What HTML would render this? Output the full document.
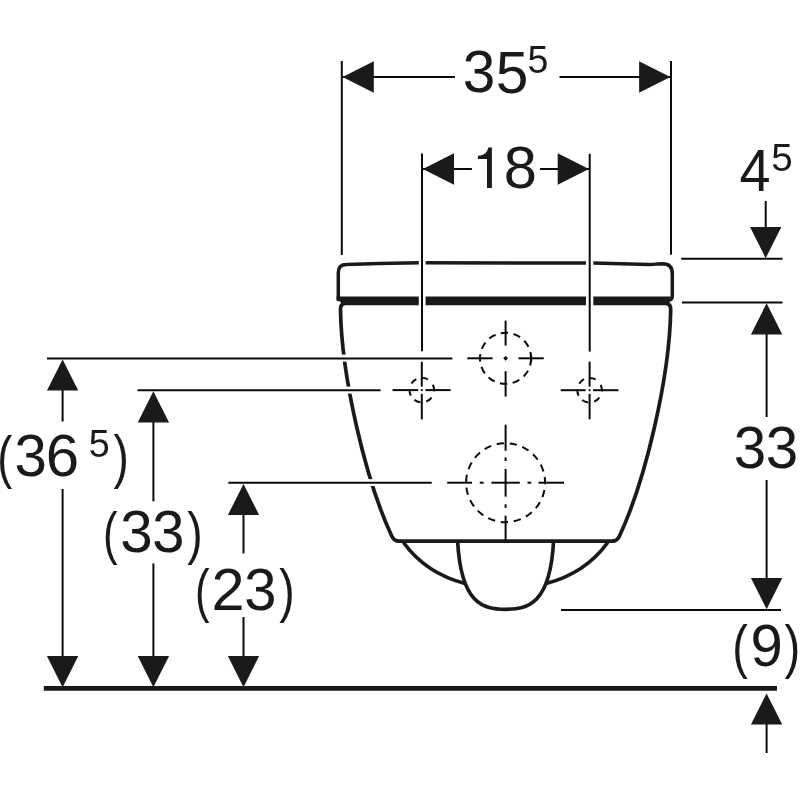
<!DOCTYPE html>
<html><head><meta charset="utf-8"><style>
html,body{margin:0;padding:0;background:#fff;}
svg{display:block;}
text{font-family:"Liberation Sans",sans-serif;fill:#1a1a1a;}
svg{will-change:transform;}
</style></head><body>
<svg width="800" height="800" viewBox="0 0 800 800">
<rect width="800" height="800" fill="#fff"/>
<g stroke="#1a1a1a" fill="none" stroke-linecap="butt">
<path d="M338.3 299.5 L338.3 272.5 Q338.3 264.4 346.5 264.4 L379 263.5 L420 262.8 L593 263 L649 264.6 Q653 264.7 657.5 263.9 L662.5 263.7 Q672.3 263.7 672.3 273.5 L672.3 296 Q672.3 299.8 668.5 300.2" stroke-width="3.5" fill="none" />
<polygon points="336.6,296.6 670.5,296.6 670.5,300.5 667.8,305.2 341.5,305.2 340.5,301.8 336.6,300.8" stroke="none" fill="#1a1a1a"/>
<path d="M344.5 303.6 Q340.5 304.2 340.5 309 C341.36 377.15 365.96 480.71 391.5 535.5 Q393.8 541.2 399 541.2" stroke-width="3.7" fill="none" />
<path d="M 666.70 303.6 Q 670.70 304.2 670.70 309 C 669.84 377.15 645.24 480.71 619.70 535.5 Q 617.40 541.2 612.20 541.2" stroke-width="3.7" fill="none" />
<line x1="397" y1="541.2" x2="614.2" y2="541.2" stroke-width="3.7"/>
<path d="M403.5 542.5 C418 562.5 440 577 465 583.5" stroke-width="3.7" fill="none" />
<path d="M 607.70 542.5 C 593.20 562.5 571.20 577 546.20 583.5" stroke-width="3.7" fill="none" />
<path d="M457.6 541 C460.93 603.9 483.07 609.3 505.6 609.3 C528.1300000000001 609.3 550.27 603.9 553.6 541" stroke-width="3.7" fill="none" />
<rect x="418.8" y="258" width="6.8" height="50" fill="#fff" stroke="none"/>
<rect x="586" y="258" width="7.3" height="50" fill="#fff" stroke="none"/>
<rect x="336" y="354.6" width="14" height="7" fill="#fff" stroke="none"/>
<rect x="340" y="386.6" width="14" height="7" fill="#fff" stroke="none"/>
<rect x="362" y="479.2" width="16" height="6.8" fill="#fff" stroke="none"/>
<line x1="341.8" y1="61.0" x2="341.8" y2="255" stroke-width="2.0" stroke="#0a0a0a"/>
<line x1="671.0" y1="60.9" x2="671.0" y2="254.8" stroke-width="2.0" stroke="#0a0a0a"/>
<line x1="342" y1="77" x2="455" y2="77" stroke-width="2.0" stroke="#0a0a0a"/>
<line x1="559.5" y1="77" x2="670.6" y2="77" stroke-width="2.0" stroke="#0a0a0a"/>
<polygon points="342.60,77.00 373.80,61.35 373.80,92.65" stroke="none" fill="#1a1a1a"/>
<polygon points="670.30,77.00 639.10,61.35 639.10,92.65" stroke="none" fill="#1a1a1a"/>
<line x1="422" y1="153.6" x2="422" y2="351.2" stroke-width="2.0" stroke="#0a0a0a"/>
<line x1="589.7" y1="153.8" x2="589.7" y2="351.6" stroke-width="2.0" stroke="#0a0a0a"/>
<line x1="422" y1="169" x2="471.9" y2="169" stroke-width="2.0" stroke="#0a0a0a"/>
<line x1="540" y1="169" x2="589.7" y2="169" stroke-width="2.0" stroke="#0a0a0a"/>
<polygon points="422.80,169.00 454.00,153.35 454.00,184.65" stroke="none" fill="#1a1a1a"/>
<polygon points="588.90,169.00 557.70,153.35 557.70,184.65" stroke="none" fill="#1a1a1a"/>
<line x1="681.2" y1="258.8" x2="782.5" y2="258.8" stroke-width="2.0" stroke="#0a0a0a"/>
<line x1="681.9" y1="302.5" x2="782.5" y2="302.5" stroke-width="2.0" stroke="#0a0a0a"/>
<line x1="561" y1="610.1" x2="781" y2="610.1" stroke-width="2.0" stroke="#0a0a0a"/>
<line x1="765.7" y1="201.0" x2="765.7" y2="230" stroke-width="2.0" stroke="#0a0a0a"/>
<polygon points="765.70,258.20 750.05,227.00 781.35,227.00" stroke="none" fill="#1a1a1a"/>
<line x1="766.6" y1="330" x2="766.6" y2="417" stroke-width="2.0" stroke="#0a0a0a"/>
<polygon points="766.60,303.20 750.95,334.40 782.25,334.40" stroke="none" fill="#1a1a1a"/>
<line x1="766.6" y1="480" x2="766.6" y2="580" stroke-width="2.0" stroke="#0a0a0a"/>
<polygon points="766.60,609.20 750.95,578.00 782.25,578.00" stroke="none" fill="#1a1a1a"/>
<line x1="766.6" y1="720" x2="766.6" y2="753" stroke-width="2.0" stroke="#0a0a0a"/>
<polygon points="766.60,693.40 750.95,724.60 782.25,724.60" stroke="none" fill="#1a1a1a"/>
<line x1="43.8" y1="688.4" x2="777" y2="688.4" stroke-width="4.8"/>
<line x1="47" y1="358.4" x2="452.4" y2="358.4" stroke-width="2.0" stroke="#0a0a0a"/>
<line x1="62.6" y1="388" x2="62.6" y2="421.5" stroke-width="2.0" stroke="#0a0a0a"/>
<polygon points="62.60,359.40 46.95,390.60 78.25,390.60" stroke="none" fill="#1a1a1a"/>
<line x1="62.6" y1="489" x2="62.6" y2="660" stroke-width="2.0" stroke="#0a0a0a"/>
<polygon points="62.60,687.20 46.95,656.00 78.25,656.00" stroke="none" fill="#1a1a1a"/>
<line x1="137.5" y1="390.2" x2="380.6" y2="390.2" stroke-width="2.0" stroke="#0a0a0a"/>
<line x1="153.4" y1="420" x2="153.4" y2="501.4" stroke-width="2.0" stroke="#0a0a0a"/>
<polygon points="153.40,391.20 137.75,422.40 169.05,422.40" stroke="none" fill="#1a1a1a"/>
<line x1="153.4" y1="563.4" x2="153.4" y2="660" stroke-width="2.0" stroke="#0a0a0a"/>
<polygon points="153.40,687.20 137.75,656.00 169.05,656.00" stroke="none" fill="#1a1a1a"/>
<line x1="228.4" y1="482.75" x2="431.7" y2="482.75" stroke-width="2.0" stroke="#0a0a0a"/>
<line x1="243.5" y1="512" x2="243.5" y2="553.4" stroke-width="2.0" stroke="#0a0a0a"/>
<polygon points="243.50,483.90 227.85,515.10 259.15,515.10" stroke="none" fill="#1a1a1a"/>
<line x1="243.5" y1="617.0" x2="243.5" y2="660" stroke-width="2.0" stroke="#0a0a0a"/>
<polygon points="243.50,687.20 227.85,656.00 259.15,656.00" stroke="none" fill="#1a1a1a"/>
<line x1="505.6" y1="320.6" x2="505.6" y2="345.6" stroke-width="2.0" stroke="#0a0a0a"/>
<line x1="505.6" y1="371.2" x2="505.6" y2="396.6" stroke-width="2.0" stroke="#0a0a0a"/>
<line x1="467.3" y1="358.3" x2="492.6" y2="358.3" stroke-width="2.0" stroke="#0a0a0a"/>
<line x1="518.5" y1="358.3" x2="543.8" y2="358.3" stroke-width="2.0" stroke="#0a0a0a"/>
<polygon points="503.20000000000005,358.3 505.6,355.90000000000003 508.0,358.3 505.6,360.7" stroke="none" fill="#0a0a0a"/>
<path d="M530.94 354.65A25.6 25.6 0 0 1 530.94 361.95M528.03 370.63A25.6 25.6 0 0 1 523.64 376.47M519.32 379.91A25.6 25.6 0 0 1 512.66 382.91M507.21 383.85A25.6 25.6 0 0 1 499.93 383.26M494.70 381.46A25.6 25.6 0 0 1 488.60 377.44M484.89 373.35A25.6 25.6 0 0 1 481.48 366.89M480.20 361.51A25.6 25.6 0 0 1 480.33 354.21M481.80 348.88A25.6 25.6 0 0 1 485.43 342.54M489.28 338.57A25.6 25.6 0 0 1 495.52 334.77M500.80 333.15A25.6 25.6 0 0 1 508.10 332.82M513.51 333.95A25.6 25.6 0 0 1 520.06 337.18M524.26 340.78A25.6 25.6 0 0 1 528.45 346.76" stroke-width="2.0" fill="none" stroke="#0a0a0a" />
<path d="M530.40 351.93A25.6 25.6 0 0 1 530.16 365.53" stroke-width="2.0" fill="none" stroke="#0a0a0a" />
<line x1="421.8" y1="361.8" x2="421.8" y2="386.6" stroke-width="2.0" stroke="#0a0a0a"/>
<line x1="421.8" y1="393.8" x2="421.8" y2="419.4" stroke-width="2.0" stroke="#0a0a0a"/>
<line x1="392.5" y1="390.1" x2="418.2" y2="390.1" stroke-width="2.0" stroke="#0a0a0a"/>
<line x1="425.4" y1="390.1" x2="450.6" y2="390.1" stroke-width="2.0" stroke="#0a0a0a"/>
<rect x="420.8" y="389.1" width="2" height="2" fill="#1a1a1a" stroke="none"/>
<path d="M421.48 377.80A12.3 12.3 0 0 1 427.86 379.39M432.90 384.80A12.3 12.3 0 0 1 434.04 391.28M431.56 397.59A12.3 12.3 0 0 1 426.31 401.54M420.41 402.32A12.3 12.3 0 0 1 414.31 399.86M410.79 395.59A12.3 12.3 0 0 1 409.54 389.13M411.43 383.49A12.3 12.3 0 0 1 416.31 379.09" stroke-width="2.0" fill="none" stroke="#0a0a0a" />
<line x1="589.6" y1="361.6" x2="589.6" y2="386.6" stroke-width="2.0" stroke="#0a0a0a"/>
<line x1="589.6" y1="393.9" x2="589.6" y2="419.3" stroke-width="2.0" stroke="#0a0a0a"/>
<line x1="560.7" y1="390.2" x2="585.6" y2="390.2" stroke-width="2.0" stroke="#0a0a0a"/>
<line x1="593" y1="390.2" x2="618.4" y2="390.2" stroke-width="2.0" stroke="#0a0a0a"/>
<rect x="588.6" y="389.2" width="2" height="2" fill="#1a1a1a" stroke="none"/>
<path d="M589.28 377.90A12.3 12.3 0 0 1 595.66 379.49M600.70 384.90A12.3 12.3 0 0 1 601.84 391.38M599.36 397.69A12.3 12.3 0 0 1 594.11 401.64M588.21 402.42A12.3 12.3 0 0 1 582.11 399.96M578.59 395.69A12.3 12.3 0 0 1 577.34 389.23M579.23 383.59A12.3 12.3 0 0 1 584.11 379.19" stroke-width="2.0" fill="none" stroke="#0a0a0a" />
<line x1="505.6" y1="424.7" x2="505.6" y2="450.8" stroke-width="2.0" stroke="#0a0a0a"/>
<line x1="505.6" y1="457.4" x2="505.6" y2="461" stroke-width="2.0" stroke="#0a0a0a"/>
<line x1="505.6" y1="468.9" x2="505.6" y2="496.7" stroke-width="2.0" stroke="#0a0a0a"/>
<line x1="505.6" y1="504.3" x2="505.6" y2="507.9" stroke-width="2.0" stroke="#0a0a0a"/>
<line x1="505.6" y1="515.6" x2="505.6" y2="541" stroke-width="2.0" stroke="#0a0a0a"/>
<line x1="447.2" y1="482.7" x2="472" y2="482.7" stroke-width="2.0" stroke="#0a0a0a"/>
<line x1="479.8" y1="482.7" x2="483.6" y2="482.7" stroke-width="2.0" stroke="#0a0a0a"/>
<line x1="491.4" y1="482.7" x2="519.8" y2="482.7" stroke-width="2.0" stroke="#0a0a0a"/>
<line x1="527.5" y1="482.7" x2="531.3" y2="482.7" stroke-width="2.0" stroke="#0a0a0a"/>
<line x1="538.5" y1="482.7" x2="564" y2="482.7" stroke-width="2.0" stroke="#0a0a0a"/>
<path d="M544.69 477.00A39.5 39.5 0 0 1 545.07 484.29M544.42 490.00A39.5 39.5 0 0 1 542.41 497.02M539.95 502.21A39.5 39.5 0 0 1 535.77 508.20M531.75 512.31A39.5 39.5 0 0 1 525.86 516.61M520.72 519.19A39.5 39.5 0 0 1 513.75 521.35M508.05 522.12A39.5 39.5 0 0 1 500.75 521.90M495.11 520.78A39.5 39.5 0 0 1 488.28 518.20M483.31 515.31A39.5 39.5 0 0 1 477.69 510.66M473.93 506.31A39.5 39.5 0 0 1 470.13 500.08M467.98 494.74A39.5 39.5 0 0 1 466.41 487.62M466.11 481.87A39.5 39.5 0 0 1 466.93 474.62M468.52 469.09A39.5 39.5 0 0 1 471.65 462.50M474.95 457.79A39.5 39.5 0 0 1 480.05 452.57M484.70 449.18A39.5 39.5 0 0 1 491.22 445.91M496.71 444.21A39.5 39.5 0 0 1 503.95 443.23M509.69 443.41A39.5 39.5 0 0 1 516.85 444.84M522.23 446.87A39.5 39.5 0 0 1 528.54 450.54M532.96 454.21A39.5 39.5 0 0 1 537.74 459.73M540.73 464.64A39.5 39.5 0 0 1 543.45 471.42" stroke-width="2.0" fill="none" stroke="#0a0a0a" />
<text transform="translate(462.87,92.42) scale(0.9861,1)" font-size="59.46" stroke="none">3</text>
<text transform="translate(495.65,92.62) scale(0.9954,1)" font-size="58.90" stroke="none">5</text>
<text transform="translate(527.50,73.22) scale(0.9702,1)" font-size="38.70" stroke="none">5</text>
<text transform="translate(503.71,188.02) scale(1.0107,1)" font-size="59.04" stroke="none">8</text>
<text transform="translate(739.62,190.60) scale(0.9312,1)" font-size="59.88" stroke="none">4</text>
<text transform="translate(771.25,171.12) scale(0.9975,1)" font-size="38.70" stroke="none">5</text>
<text transform="translate(733.77,467.72) scale(0.9849,1)" font-size="59.32" stroke="none">3</text>
<text transform="translate(765.87,467.72) scale(0.9849,1)" font-size="59.32" stroke="none">3</text>
<text transform="translate(732.30,667.19) scale(0.7995,1)" font-size="58.50" stroke="none">(</text>
<text transform="translate(750.48,666.22) scale(0.9804,1)" font-size="59.18" stroke="none">9</text>
<text transform="translate(784.42,667.19) scale(0.8124,1)" font-size="58.50" stroke="none">)</text>
<text transform="translate(-2.81,476.80) scale(0.7808,1)" font-size="57.96" stroke="none">(</text>
<text transform="translate(14.58,475.83) scale(0.9908,1)" font-size="58.76" stroke="none">3</text>
<text transform="translate(45.65,476.43) scale(1.0266,1)" font-size="58.47" stroke="none">6</text>
<text transform="translate(113.43,477.09) scale(0.7866,1)" font-size="58.50" stroke="none">)</text>
<text transform="translate(88.69,457.11) scale(0.9545,1)" font-size="39.56" stroke="none">5</text>
<text transform="translate(102.89,552.63) scale(0.7506,1)" font-size="58.28" stroke="none">(</text>
<text transform="translate(120.27,551.62) scale(0.9872,1)" font-size="59.18" stroke="none">3</text>
<text transform="translate(152.19,551.62) scale(0.9801,1)" font-size="59.18" stroke="none">3</text>
<text transform="translate(187.13,552.63) scale(0.7959,1)" font-size="58.28" stroke="none">)</text>
<text transform="translate(194.89,611.01) scale(0.7493,1)" font-size="58.39" stroke="none">(</text>
<text transform="translate(211.51,610.20) scale(1.0009,1)" font-size="59.43" stroke="none">2</text>
<text transform="translate(244.19,610.42) scale(0.9708,1)" font-size="59.75" stroke="none">3</text>
<text transform="translate(279.13,611.01) scale(0.7945,1)" font-size="58.39" stroke="none">)</text>
<path d="M487 188.1 L491.9 188.1 L491.9 147.4 L488.2 147.4 C487.2 152.6 484.5 155.2 477.9 155.7 L477.9 158.9 L487 158.9 Z" stroke="none" fill="#1a1a1a"/>
</g>
</svg>
</body></html>
